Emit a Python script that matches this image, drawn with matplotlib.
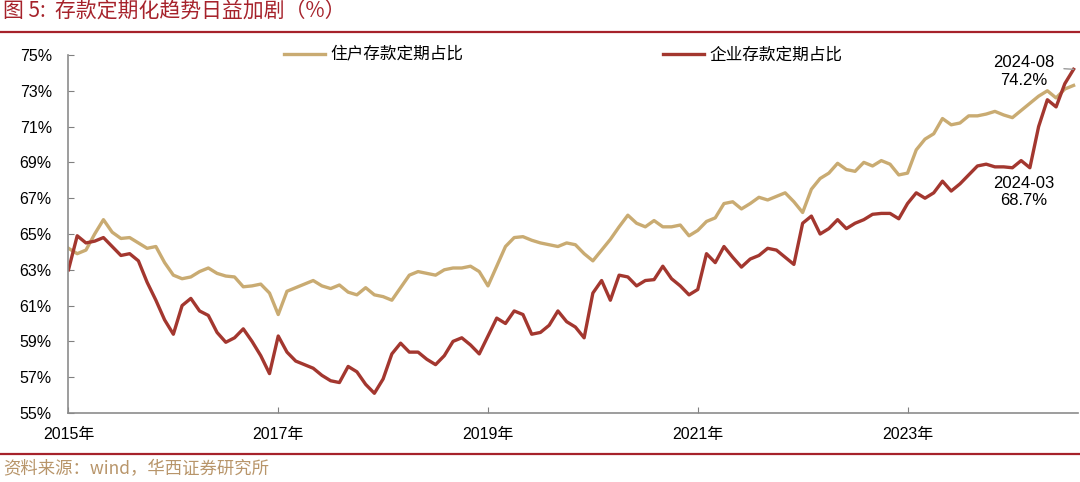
import numpy as np
import pandas as pd
import matplotlib
matplotlib.use('Agg')
import matplotlib.pyplot as plt

# 1. data: monthly share of time deposits (%), 2015-01 .. 2024-08
months = pd.period_range('2015-01', '2024-08', freq='M')

household = [64.2, 63.9, 64.1, 65.0, 65.8, 65.1, 64.75, 64.8, 64.5, 64.2, 64.3, 63.4,
             62.7, 62.5, 62.6, 62.9, 63.1, 62.8, 62.65, 62.6, 62.05, 62.1, 62.2, 61.7,
             60.5, 61.8, 62.0, 62.2, 62.4, 62.1, 61.95, 62.15, 61.75, 61.6, 62.0, 61.6,
             61.5, 61.3, 62.0, 62.7, 62.9, 62.8, 62.7, 63.0, 63.1, 63.1, 63.2, 62.9,
             62.1, 63.2, 64.3, 64.8, 64.85, 64.65, 64.5, 64.4, 64.3, 64.5, 64.4, 63.9,
             63.5, 64.1, 64.7, 65.4, 66.05, 65.6, 65.4, 65.75, 65.4, 65.4, 65.5, 64.9,
             65.2, 65.7, 65.9, 66.7, 66.8, 66.4, 66.7, 67.05, 66.9, 67.1, 67.3, 66.8,
             66.2, 67.5, 68.1, 68.4, 68.95, 68.6, 68.5, 69.0, 68.8, 69.1, 68.9, 68.3,
             68.4, 69.7, 70.3, 70.6, 71.45, 71.1, 71.2, 71.6, 71.6, 71.7, 71.85, 71.65,
             71.5, 71.9, 72.3, 72.7, 73.0, 72.6, 73.1, 73.3]

corporate = [63.0, 64.9, 64.5, 64.6, 64.8, 64.3, 63.8, 63.9, 63.5, 62.3, 61.3, 60.2,
             59.4, 61.0, 61.4, 60.7, 60.45, 59.5, 58.95, 59.2, 59.7, 59.0, 58.2, 57.2,
             59.3, 58.4, 57.9, 57.7, 57.5, 57.1, 56.8, 56.7, 57.6, 57.3, 56.6, 56.1,
             56.9, 58.3, 58.9, 58.4, 58.4, 58.0, 57.7, 58.2, 59.0, 59.2, 58.8, 58.3,
             59.3, 60.3, 60.0, 60.7, 60.5, 59.4, 59.5, 59.9, 60.7, 60.1, 59.8, 59.2,
             61.7, 62.4, 61.3, 62.7, 62.6, 62.1, 62.4, 62.45, 63.2, 62.5, 62.1, 61.6,
             61.9, 63.9, 63.4, 64.3, 63.7, 63.15, 63.6, 63.8, 64.2, 64.1, 63.7, 63.3,
             65.6, 66.0, 65.0, 65.3, 65.8, 65.3, 65.6, 65.8, 66.1, 66.15, 66.15, 65.85,
             66.7, 67.3, 67.0, 67.3, 67.95, 67.4, 67.8, 68.3, 68.8, 68.9, 68.75, 68.75,
             68.7, 69.1, 68.7, 71.0, 72.5, 72.1, 73.4, 74.2]

series_names = ['住户存款定期占比', '企业存款定期占比']
y_ticks = list(range(55, 76, 2))

red = '#A6222B'
tan = '#C9AB72'
brick = '#A3372F'

plt.rcParams['font.family'] = ['Liberation Sans', 'Noto Sans CJK SC']

# 2. plot
fig = plt.figure(figsize=(10.8, 4.82), dpi=100)
ax = fig.add_axes([0.0634, 0.1432, 0.9347, 0.7427])

x = np.arange(len(months))
ax.plot(x, household, color=tan, lw=2.4, label=series_names[0], solid_joinstyle='round')
ax.plot(x, corporate, color=brick, lw=2.4, label=series_names[1], solid_joinstyle='round')

ax.set_xlim(0, 115.5)
ax.set_ylim(55, 75)

xt = [i for i, p in enumerate(months) if p.month == 1 and p.year % 2 == 1]
ax.set_xticks(xt)
ax.set_xticklabels(['%d年' % months[i].year for i in xt])
ax.set_yticks(y_ticks)
ax.set_yticklabels(['%d%%' % v for v in y_ticks])

ax.tick_params(direction='in', length=4, color='#808080', labelsize=11.5)
ax.tick_params(axis='y', pad=12)
ax.tick_params(axis='x', pad=10)
for s in ['top', 'right']:
    ax.spines[s].set_visible(False)
for s in ['left', 'bottom']:
    ax.spines[s].set_color('#8C8C8C')
    ax.spines[s].set_linewidth(1.2)

ax.legend(loc='center left', bbox_to_anchor=(284 / 1080, 1 - 55 / 482),
          bbox_transform=fig.transFigure, ncol=2, frameon=False,
          prop={'family': 'Noto Sans CJK SC', 'size': 12},
          handlelength=2.46, handletextpad=0.3, columnspacing=12,
          borderpad=0, borderaxespad=0)

# annotations
last = len(months) - 1
ax.annotate('%s\n%.1f%%' % (months[last].strftime('%Y-%m'), corporate[last]),
            xy=(last, corporate[last]), xytext=(-50, -2), textcoords='offset pixels',
            ha='center', va='center', fontsize=12,
            arrowprops=dict(arrowstyle='-', color='#9A9A9A', lw=1,
                            relpos=(1, 0.6), shrinkA=5, shrinkB=0))
i3 = 110
ax.annotate('%s\n%.1f%%' % (months[i3].strftime('%Y-%m'), corporate[i3]),
            xy=(i3, corporate[i3]), xytext=(-6, -24), textcoords='offset pixels',
            ha='center', va='center', fontsize=12)

# title, source and rules
fig.text(0.003, 1 - 12 / 482, '图 5:  存款定期化趋势日益加剧（%）', color=red,
         fontsize=15, va='center', ha='left', family=['Noto Sans CJK SC'])
fig.add_artist(plt.Line2D([0, 1], [1 - 32 / 482] * 2, color=red, lw=1.6,
                          transform=fig.transFigure))
fig.add_artist(plt.Line2D([0, 1], [1 - 454 / 482] * 2, color=red, lw=1.6,
                          transform=fig.transFigure))
fig.text(0.003, 1 - 469 / 482, '资料来源：wind，华西证券研究所', color='#B8956A',
         fontsize=12.5, va='center', ha='left', family=['Noto Sans CJK SC'])

fig.savefig('out.png', dpi=100)
